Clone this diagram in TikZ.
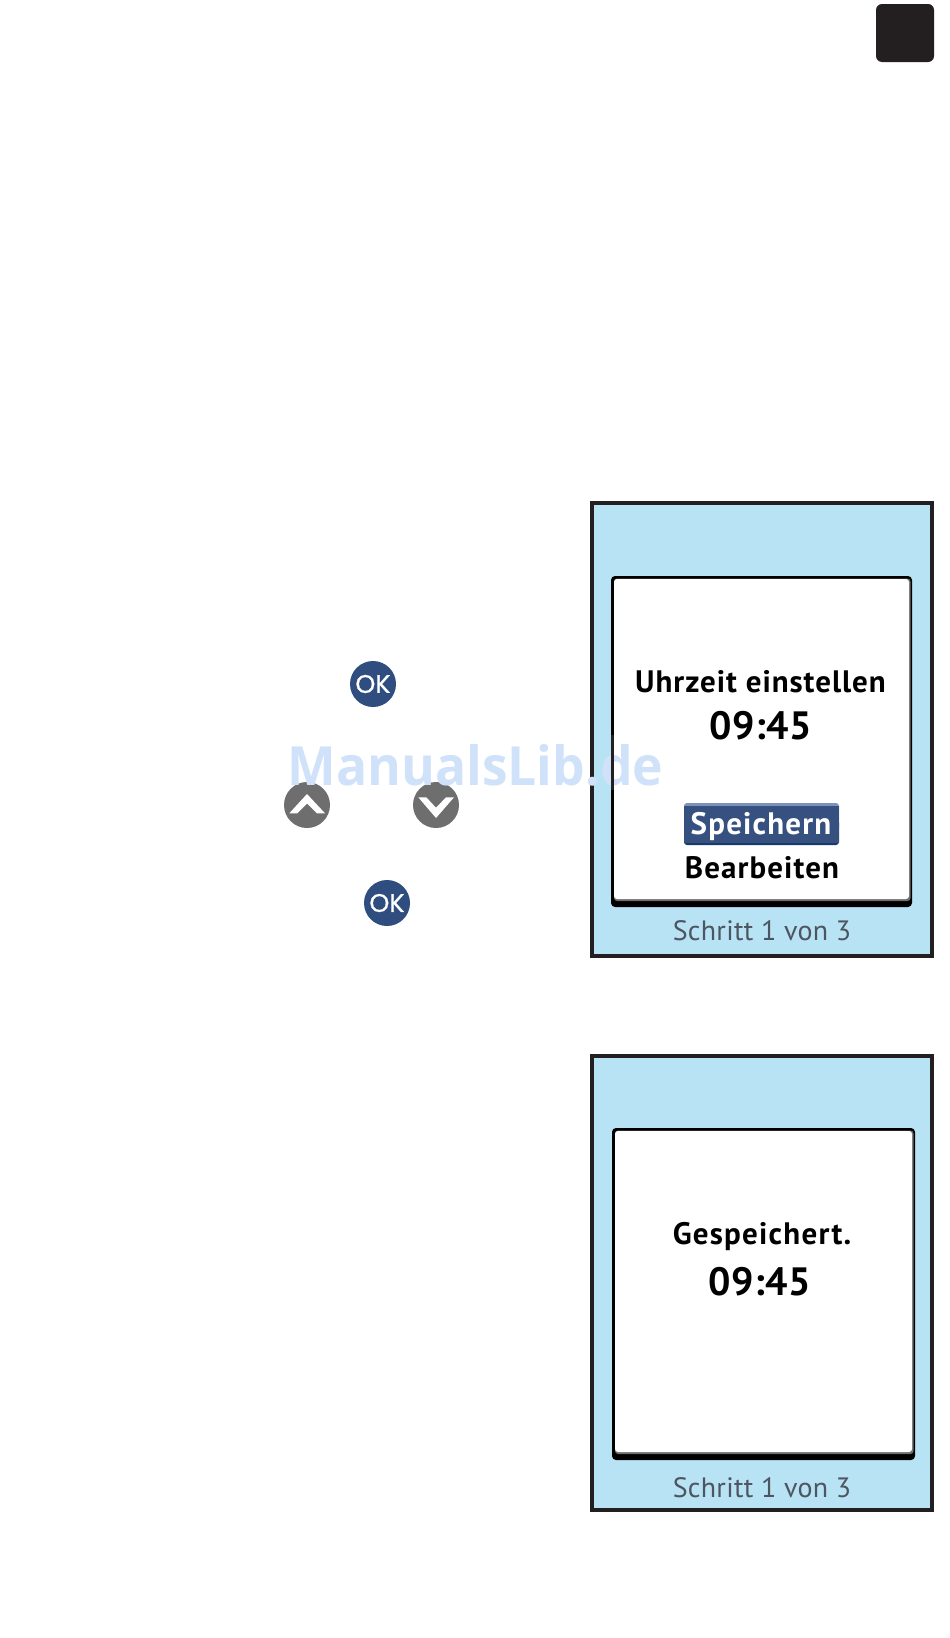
\documentclass[tikz,border=0pt]{standalone}
\usepackage{fontspec}
\setmainfont{PT Sans}
\newfontfamily\wmfont[FakeStretch=0.955]{Open Sans}
\newfontfamily\okfont[FakeBold=0.7]{Poppins}
\definecolor{okblue}{HTML}{2F4D7F}
\definecolor{btnface}{HTML}{36507F}
\definecolor{btntop}{HTML}{7C92BC}
\definecolor{btnbot}{HTML}{173A68}
\definecolor{btngray}{HTML}{6E6E6E}
\definecolor{screenblue}{HTML}{B7E3F4}
\definecolor{framedark}{HTML}{231F20}
\definecolor{edgegray}{HTML}{707070}
\definecolor{wmark}{HTML}{D0E2FA}
\definecolor{steptext}{HTML}{4D5560}
\tikzset{
  x=1pt,y=-1pt,
  screenframe/.style={draw=framedark,line width=4pt,fill=screenblue,rectangle,inner sep=0pt},
  txt/.style={anchor=base,inner sep=0pt,outer sep=0pt,text=black},
  roundbtn/.style={circle,minimum size=46pt,inner sep=0pt,text=white},
  okbtn/.style={roundbtn,fill=okblue,font=\okfont\fontsize{25.5}{25}\selectfont},
  arrowbtn/.style={roundbtn,fill=btngray},
}
\newcommand{\labelfont}{\bfseries\fontsize{31}{31}\selectfont}
\newcommand{\timefont}{\bfseries\fontsize{39.5}{40}\selectfont\addfontfeature{LetterSpace=1.2}}
\newcommand{\stepfont}{\fontsize{28}{28}\selectfont\addfontfeature{LetterSpace=1}}
\begin{document}
\begin{tikzpicture}
\useasboundingbox (0,0) rectangle (950,1638);
\fill[white] (0,0) rectangle (950,1638);
\node[fill=framedark,rounded corners=6pt,minimum width=58pt,minimum height=58pt,inner sep=0pt] (tab) at (905,33) {};

% first panel
\node[screenframe,minimum width=340pt,minimum height=453pt] (p1) at (762,729.5) {};
\fill[black,rounded corners=4pt] (611,576) rectangle (912,907);
\fill[edgegray,rounded corners=3pt] (614,578.5) rectangle (910.5,901);
\fill[white,rounded corners=3pt] (614,579) rectangle (909,899);
\node[txt,font=\labelfont\addfontfeature{LetterSpace=3.1}] (t1) at (760.5,692) {Uhrzeit einstellen};
\node[txt,font=\timefont] (t2) at (761,739) {09:45};
\fill[btntop,rounded corners=3pt] (684,803) rectangle (839,830);
\fill[btnbot,rounded corners=3pt] (684,820) rectangle (839,845);
\fill[btnface] (684,805.5) rectangle (839,842.5);
\node[txt,text=white,font=\labelfont\addfontfeature{LetterSpace=3.8}] (t3) at (761,834) {Speichern};
\node[txt,font=\labelfont\addfontfeature{LetterSpace=3.5}] (t4) at (762,878.5) {Bearbeiten};
\node[txt,text=steptext,font=\stepfont] (s1) at (762,940) {Schritt 1 von 3};

% second panel
\node[screenframe,minimum width=340pt,minimum height=454pt] (p2) at (762,1283) {};
\fill[black,rounded corners=4pt] (612,1128) rectangle (915,1460);
\fill[edgegray,rounded corners=3pt] (615,1130.5) rectangle (913.5,1454);
\fill[white,rounded corners=3pt] (615,1131) rectangle (912,1452);
\node[txt,font=\labelfont\addfontfeature{LetterSpace=4}] (t5) at (762,1244) {Gespeichert.};
\node[txt,font=\timefont] (t6) at (760,1295) {09:45};
\node[txt,text=steptext,font=\stepfont] (s2) at (762,1497) {Schritt 1 von 3};

% buttons
\node[okbtn] (ok1) at (373,684) {OK};
\node[okbtn] (ok2) at (387,903) {OK};
\node[arrowbtn] (up) at (307,805) {};
\node[arrowbtn] (down) at (436,805) {};
\fill[white] ([shift={(-17.7,8.3)}]up.center) -- ([shift={(0,-11)}]up.center) -- ([shift={(18,8.3)}]up.center)
  -- ([shift={(10,8.3)}]up.center) -- ([shift={(0,-1.5)}]up.center) -- ([shift={(-9.7,8.3)}]up.center) -- cycle;
\fill[white] ([shift={(-17.7,-7.7)}]down.center) -- ([shift={(0,13)}]down.center) -- ([shift={(18,-7.7)}]down.center)
  -- ([shift={(10,-7.7)}]down.center) -- ([shift={(0,2.7)}]down.center) -- ([shift={(-9.7,-7.7)}]down.center) -- cycle;

% watermark
\node[anchor=base,inner sep=0pt,text=wmark,font=\wmfont\bfseries\fontsize{54}{54}\selectfont] (wm) at (475.5,785) {ManualsLib.de};

% inner screen edge stays above the watermark
\draw[framedark,line width=2.6pt] (612.5,735) -- (612.5,790);
\end{tikzpicture}
\end{document}
